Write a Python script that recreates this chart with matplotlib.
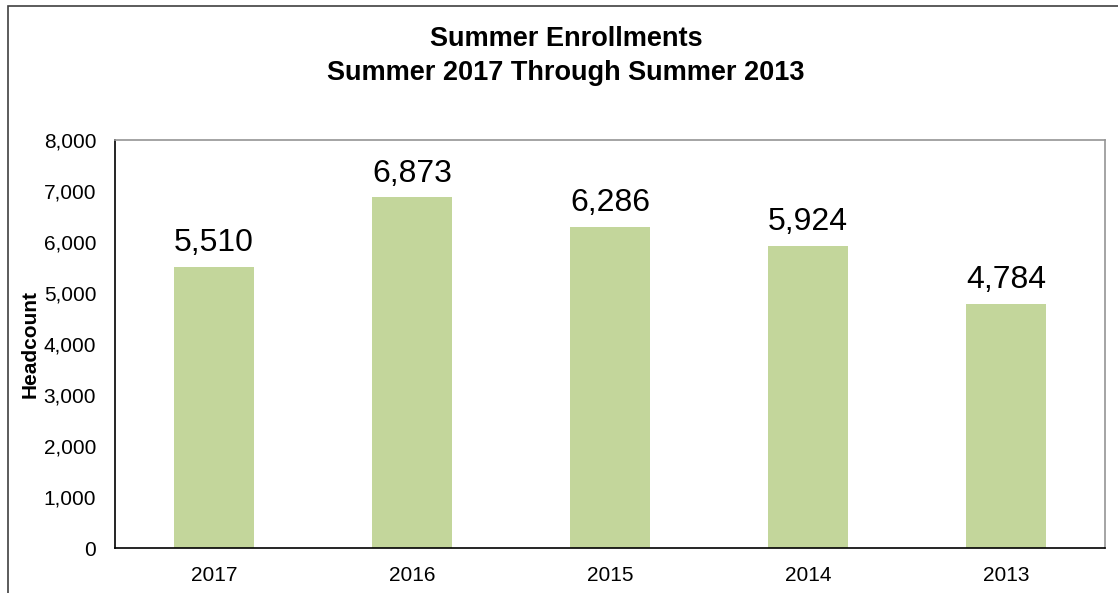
import matplotlib
matplotlib.use("Agg")
import matplotlib.pyplot as plt
from matplotlib.patches import Rectangle
from matplotlib.ticker import FuncFormatter

categories = ["2017", "2016", "2015", "2014", "2013"]
headcount = [5510, 6873, 6286, 5924, 4784]

plt.rcParams['font.family'] = ['Liberation Sans', 'DejaVu Sans']

fig = plt.figure(figsize=(11.18, 5.93), dpi=100)
# outer chart border (cropped at right/bottom)
fig.patches.append(Rectangle((8/1118, -0.1), 1.2, 1 - 6/593 + 0.1, transform=fig.transFigure,
                             fill=False, edgecolor='#404040', linewidth=1.2))

ax = fig.add_axes([115/1118, 1 - 548/593, (1105 - 115)/1118, (548 - 140)/593])
x = range(len(categories))
bars = ax.bar(x, headcount, width=0.4, color='#C3D69B')
ax.set_xlim(-0.5, len(categories) - 0.5)
ax.set_ylim(0, 8000)
ax.set_yticks(range(0, 8001, 1000))
ax.yaxis.set_major_formatter(FuncFormatter(lambda v, p: f"{int(v):,}"))
ax.set_xticks(list(x))
ax.set_xticklabels(categories)
ax.tick_params(axis='both', length=0, labelsize=15)
ax.tick_params(axis='y', pad=13.5)
ax.tick_params(axis='x', pad=13)
for side in ['left', 'bottom']:
    ax.spines[side].set_color('black')
    ax.spines[side].set_linewidth(1.2)
for side in ['top', 'right']:
    ax.spines[side].set_color('#959595')
    ax.spines[side].set_linewidth(1.2)

for xi, v in zip(x, headcount):
    ax.annotate(f"{v:,}", (xi, v), xytext=(0, 11.5), textcoords='offset points',
                ha='center', va='baseline', fontsize=23)

ax.set_ylabel('Headcount', fontsize=15, fontweight='bold', labelpad=3)

fig.text(566/1118, 1 - 39/593, 'Summer Enrollments', ha='center', va='center',
         fontsize=19.5, fontweight='bold')
fig.text(566/1118, 1 - 73/593, 'Summer 2017 Through Summer 2013', ha='center', va='center',
         fontsize=19.5, fontweight='bold')

fig.savefig('out.png', dpi=100)
